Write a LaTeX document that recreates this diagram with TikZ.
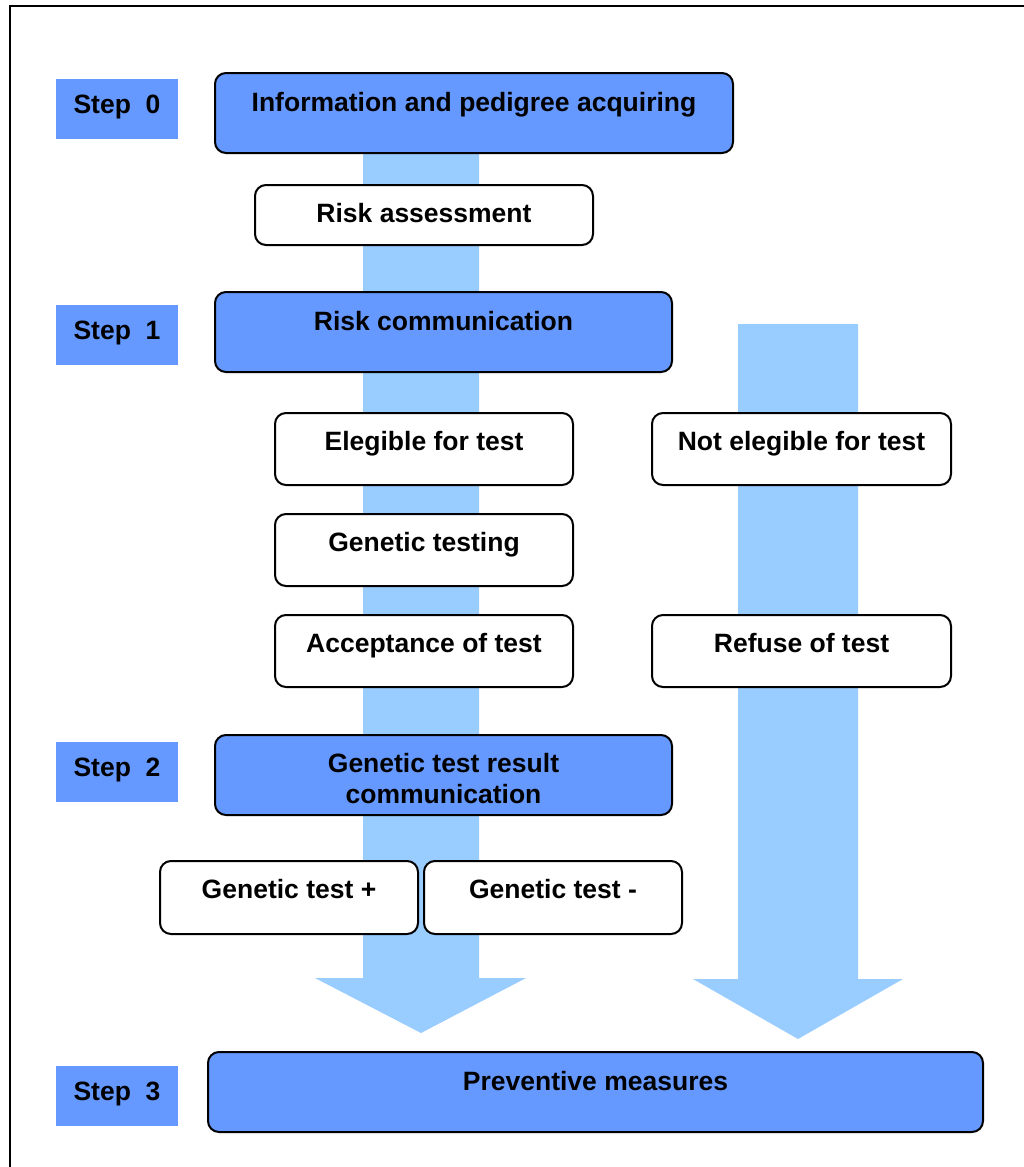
\documentclass[tikz,border=0pt]{standalone}
\usepackage{fontspec}
\setmainfont{Liberation Sans}
\usepackage{tikz}

\definecolor{stageblue}{HTML}{6699FF}
\definecolor{flowblue}{HTML}{99CCFF}

\begin{document}
\begin{tikzpicture}[x=1pt, y=-1pt,
    every node/.style={inner sep=0pt, outer sep=0pt, anchor=north,
        font=\bfseries\fontsize{26.5}{31}\selectfont},
    stage/.style={draw, line width=2pt, rounded corners=11pt, fill=stageblue,
        text height=38pt, text depth=42pt},
    task/.style={draw, line width=2pt, rounded corners=11pt, fill=white,
        text height=37pt, text depth=35pt},
    steplabel/.style={fill=stageblue, minimum width=122pt,
        text height=34pt, text depth=26pt}]
    \useasboundingbox (0,0) rectangle (1024,1167);
    \draw[line width=2pt] (9.5,1167) |- (1024,6);

    % flow arrows behind the boxes
    \fill[flowblue] (363,140) -- (479,140) -- (479,978) -- (526,978) -- (421,1033)
        -- (315,978) -- (363,978) -- cycle;
    \fill[flowblue] (738,324) -- (858,324) -- (858,979) -- (903,979) -- (798,1039)
        -- (693,979) -- (738,979) -- cycle;

    \node[steplabel] (S0) at (117,79) {Step~~0};
    \node[steplabel] (S1) at (117,305) {Step~~1};
    \node[steplabel] (S2) at (117,742) {Step~~2};
    \node[steplabel] (S3) at (117,1066) {Step~~3};

    \node[stage, minimum width=518pt] (info) at (474,73) {Information and pedigree acquiring};
    \node[task, minimum width=338pt, text depth=23pt] (assess) at (424,185) {Risk assessment};
    \node[stage, minimum width=457pt] (comm) at (443.5,292) {Risk communication};

    \node[task, minimum width=298pt] (elig) at (424,413) {Elegible for test};
    \node[task, minimum width=299pt] (notelig) at (801.5,413) {Not elegible for test};
    \node[task, minimum width=298pt] (testing) at (424,514) {Genetic testing};
    \node[task, minimum width=298pt] (accept) at (424,615) {Acceptance of test};
    \node[task, minimum width=299pt] (refuse) at (801.5,615) {Refuse of test};

    \node[stage, minimum width=457pt, text height=37pt, text depth=43pt] (result) at (443.5,735)
        {\begin{tabular}[t]{@{}c@{}}Genetic test result\\communication\end{tabular}};
    \node[task, minimum width=258pt, text depth=36pt] (pos) at (289,861) {Genetic test +};
    \node[task, minimum width=258pt, text depth=36pt] (neg) at (553,861) {Genetic test -};

    \node[stage, minimum width=775pt] (prevent) at (595.5,1052) {Preventive measures};
\end{tikzpicture}
\end{document}
